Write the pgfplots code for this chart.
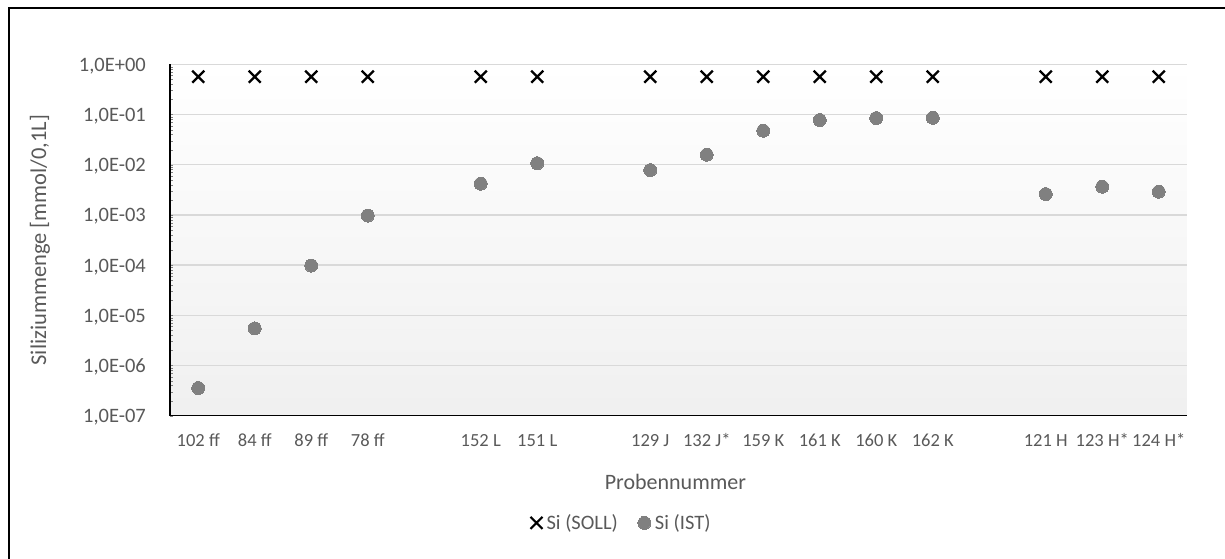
\documentclass[border=0pt]{standalone}
\usepackage{pgfplots}
\pgfplotsset{compat=1.18}
\usepackage{fontspec}
\setmainfont{Carlito}
\definecolor{txt}{HTML}{595959}
\definecolor{gridc}{HTML}{D9D9D9}
\definecolor{dot}{HTML}{808080}
\begin{document}
\begin{tikzpicture}
\path[use as bounding box] (0,0) rectangle (1225pt,-558pt);
\draw[line width=2pt] (9pt,-570pt) -- (9pt,-8pt) -- (1240pt,-8pt);
\begin{axis}[
  at={(170pt,-415.7pt)}, anchor=south west,
  scale only axis, width=1017pt, height=351.4pt,
  ymode=log, ymin=1e-7, ymax=1,
  xmin=-0.5, xmax=17.5,
  axis background/.style={top color=white, bottom color=black!6},
  axis x line*=bottom, axis y line*=left,
  axis line style={-, line width=1.5pt, black},
  ymajorgrids=true, xmajorgrids=false,
  major grid style={draw=gridc, line width=1.5pt},
  major tick length=0pt, minor tick num=0,
  ytick={1e-7,1e-6,1e-5,1e-4,1e-3,1e-2,1e-1,1},
  yticklabels={{1,0E-07},{1,0E-06},{1,0E-05},{1,0E-04},{1,0E-03},{1,0E-02},{1,0E-01},{1,0E+00}},
  xtick={0,1,2,3,5,6,8,9,10,11,12,13,15,16,17},
  xticklabels={102 ff,84 ff,89 ff,78 ff,152 L,151 L,129 J,132 J*,159 K,161 K,160 K,162 K,121 H,123 H*,124 H*},
  yticklabel style={font=\fontsize{20.5}{24}\selectfont, text=txt, inner sep=0pt, anchor=base east, xshift=-24pt, yshift=-7pt},
  xticklabel style={font=\fontsize{18.5}{22}\selectfont, text=txt, inner sep=0pt, anchor=base, yshift=-31pt},
  ylabel={Siliziummenge [mmol/0,1L]},
  ylabel style={font=\fontsize{22.5}{27}\selectfont, text=txt, at={(axis description cs:-0.1278,0.5)}, anchor=center, inner sep=0pt},
  xlabel={Probennummer},
  xlabel style={font=\fontsize{22}{26}\selectfont, text=txt, at={(axis description cs:0.497,-0.1878)}, anchor=center, inner sep=0pt},
  legend columns=2,
  legend style={draw=none, fill=none, at={(axis description cs:0.444,-0.305)}, anchor=center, font=\fontsize{20.5}{24}\selectfont, text=txt,
    /tikz/every odd column/.append style={column sep=2pt},
    /tikz/every even column/.append style={column sep=18pt}},
  legend cell align=left,
  clip=false,
]
\addplot[only marks, mark=x, mark size=8.5pt, mark options={line width=2.2pt, black}] coordinates {
(0,0.566) (1,0.566) (2,0.566) (3,0.566) (5,0.566) (6,0.566) (8,0.566) (9,0.566) (10,0.566) (11,0.566) (12,0.566) (13,0.566) (15,0.566) (16,0.566) (17,0.566)};
\addlegendentry{Si (SOLL)}
\addplot[only marks, mark=*, mark size=6.5pt, mark options={draw=dot, fill=dot, line width=0pt}] coordinates {
(0,3.56e-7) (1,5.5e-6) (2,9.8e-5) (3,9.7e-4) (5,4.19e-3) (6,1.07e-2) (8,7.8e-3) (9,1.58e-2) (10,4.75e-2) (11,7.76e-2) (12,8.5e-2) (13,8.6e-2) (15,2.6e-3) (16,3.65e-3) (17,2.9e-3)};
\addlegendentry{Si (IST)}
\end{axis}
\end{tikzpicture}
\end{document}
